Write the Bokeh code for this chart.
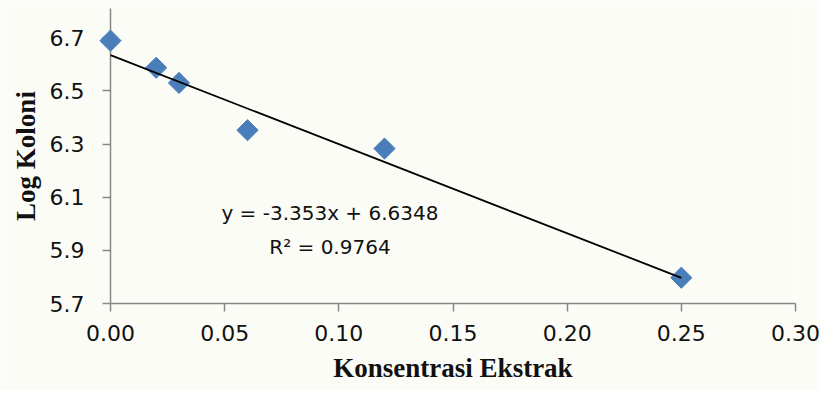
import numpy as np
from bokeh.plotting import figure
from bokeh.models import FixedTicker, NumeralTickFormatter, Label, Range1d
from bokeh.embed import file_html
from bokeh.resources import INLINE

# Data
konsentrasi = [0.00, 0.02, 0.03, 0.06, 0.12, 0.25]
log_koloni = [6.689, 6.587, 6.530, 6.352, 6.283, 5.797]
slope = -3.353
intercept = 6.6348
r2 = 0.9764
x_ticks = [0.00, 0.05, 0.10, 0.15, 0.20, 0.25, 0.30]
y_ticks = [5.7, 5.9, 6.1, 6.3, 6.5, 6.7]

BG = "#fcfcf7"
AX = "#868686"

p = figure(width=820, height=390, output_backend="svg", toolbar_location=None,
           x_range=Range1d(0, 0.30), y_range=Range1d(5.7, 6.81),
           min_border_left=110, min_border_right=25, min_border_top=8, min_border_bottom=87,
           background_fill_color=BG, border_fill_color=BG)
p.outline_line_color = None
p.xgrid.visible = False
p.ygrid.visible = False

for ax in (p.xaxis[0], p.yaxis[0]):
    ax.axis_line_color = AX
    ax.axis_line_width = 1.5
    ax.major_tick_line_color = AX
    ax.major_tick_line_width = 1.5
    ax.major_tick_out = 8
    ax.major_tick_in = 0
    ax.minor_tick_line_color = None
    ax.major_label_text_font = "DejaVu Sans"
    ax.major_label_text_font_size = "22px"
    ax.major_label_text_color = "#111111"
    ax.axis_label_text_font = "Liberation Serif"
    ax.axis_label_text_font_style = "bold"
    ax.axis_label_text_font_size = "27px"
    ax.axis_label_text_color = "#111111"

p.xaxis.ticker = FixedTicker(ticks=x_ticks)
p.yaxis.ticker = FixedTicker(ticks=y_ticks)
p.xaxis.formatter = NumeralTickFormatter(format="0.00")
p.yaxis.formatter = NumeralTickFormatter(format="0.0")
p.xaxis.major_label_standoff = 13
p.yaxis.major_label_standoff = 18
p.xaxis.axis_label = "Konsentrasi Ekstrak"
p.yaxis.axis_label = "Log Koloni"
p.xaxis.axis_label_standoff = 9
p.yaxis.axis_label_standoff = 6

p.scatter(konsentrasi, log_koloni, marker="square", size=15, angle=np.pi / 4,
          fill_color="#4a7ebb", line_color="#4a7ebb", level="overlay")

tx = [min(konsentrasi), max(konsentrasi)]
ty = [slope * v + intercept for v in tx]
p.line(tx, ty, line_color="black", line_width=1.8, level="overlay")

p.add_layout(Label(x=0.0961, y=6.042, text=f"y = {slope}x + {intercept}",
                   text_font="DejaVu Sans", text_font_size="20px", text_align="center",
                   text_baseline="alphabetic", text_color="#111111"))
p.add_layout(Label(x=0.0961, y=5.914, text=f"R² = {r2}",
                   text_font="DejaVu Sans", text_font_size="20px", text_align="center",
                   text_baseline="alphabetic", text_color="#111111"))

open("out.html", "w").write(file_html(p, INLINE))
